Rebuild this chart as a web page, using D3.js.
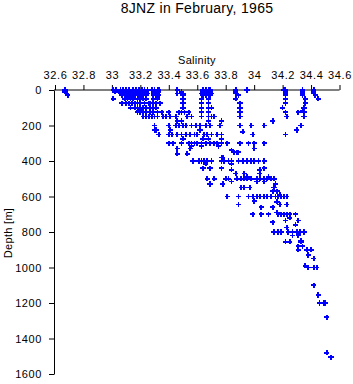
<!DOCTYPE html>
<html>
<head>
<meta charset="utf-8">
<script src="https://cdn.jsdelivr.net/npm/d3@7"></script>
<style>
  body { margin: 0; background: #fff; }
  svg { display: block; font-family: "Liberation Sans", Arial, sans-serif; }
</style>
</head>
<body>
<div id="chart"></div>
<script>
const TITLE = "8JNZ in February, 1965";
const X_LABEL = "Salinity";
const Y_LABEL = "Depth [m]";

const xTicks = [32.6, 32.8, 33, 33.2, 33.4, 33.6, 33.8, 34, 34.2, 34.4, 34.6];
const yTicks = [0, 200, 400, 600, 800, 1000, 1200, 1400, 1600];

// sampled depths (m) and the salinities read at each of them
const depths = [0, 10, 20, 30, 50, 75, 100, 115, 125, 150, 175, 200, 225, 235, 250, 275, 300, 315, 330, 340, 350, 360, 380,
  400, 415, 440, 450, 470, 490, 500, 515, 530, 550, 570, 590, 600, 625, 630, 645, 660, 690, 700, 720, 735, 745, 760, 775,
  800, 820, 850, 855, 880, 900, 930, 950, 990, 1000, 1100, 1155, 1200, 1280, 1480, 1505];

const salinity = [
  [32.67, 33.01, 33.03, 33.06, 33.08, 33.10, 33.12, 33.15, 33.17, 33.19, 33.21, 33.23, 33.25, 33.28, 33.30, 33.32, 33.33, 33.46, 33.64, 33.66, 33.68, 33.69, 33.87, 33.95, 34.21, 34.22, 34.34, 34.42],
  [32.67, 33.02, 33.05, 33.08, 33.10, 33.12, 33.14, 33.17, 33.20, 33.22, 33.24, 33.29, 33.31, 33.33, 33.49, 33.64, 33.66, 33.68, 33.69, 33.87, 34.22, 34.34, 34.42],
  [32.68, 33.06, 33.09, 33.11, 33.13, 33.16, 33.18, 33.21, 33.23, 33.25, 33.29, 33.32, 33.46, 33.50, 33.63, 33.65, 33.68, 33.70, 33.87, 34.22, 34.34, 34.42],
  [32.69, 33.07, 33.10, 33.12, 33.14, 33.16, 33.19, 33.21, 33.24, 33.29, 33.31, 33.33, 33.50, 33.64, 33.66, 33.68, 33.69, 33.89, 34.22, 34.34, 34.43],
  [33.01, 33.09, 33.11, 33.13, 33.15, 33.18, 33.20, 33.22, 33.24, 33.29, 33.32, 33.50, 33.63, 33.68, 33.87, 34.22, 34.36, 34.45],
  [33.07, 33.10, 33.12, 33.14, 33.16, 33.18, 33.20, 33.23, 33.26, 33.27, 33.29, 33.31, 33.34, 33.50, 33.63, 33.68, 33.90, 34.22, 34.36],
  [33.13, 33.16, 33.18, 33.20, 33.22, 33.24, 33.27, 33.29, 33.31, 33.50, 33.63, 33.68, 33.70, 33.90, 34.20, 34.35],
  [33.19, 33.21, 34.34],
  [33.18, 33.20, 33.22, 33.24, 33.27, 33.29, 33.32, 33.35, 33.40, 33.47, 33.49, 33.51, 33.54, 33.63, 33.68, 33.90, 34.22, 34.31, 34.35],
  [33.22, 33.24, 33.26, 33.28, 33.30, 33.32, 33.36, 33.38, 33.41, 33.45, 33.53, 33.56, 33.63, 33.68, 33.70, 33.72, 33.90, 34.23, 34.35],
  [33.46, 33.49, 33.68, 33.77, 34.13],
  [33.30, 33.40, 33.45, 33.47, 33.50, 33.52, 33.56, 33.59, 33.62, 33.66, 33.69, 33.76, 33.90, 33.98, 34.07, 34.33],
  [33.30, 33.31, 33.41, 33.62, 34.30],
  [33.92],
  [33.33, 33.40, 33.42, 33.46, 33.49, 33.52, 33.55, 33.58, 33.60, 33.65, 33.67, 33.70, 33.74, 33.77, 33.99, 34.22],
  [33.50, 33.64, 33.68, 33.77],
  [33.40, 33.43, 33.49, 33.54, 33.56, 33.58, 33.60, 33.63, 33.66, 33.69, 33.72, 33.74, 33.77, 33.81, 33.90, 33.96, 34.00, 34.07],
  [33.56, 33.63, 33.75],
  [33.46, 33.55, 34.00],
  [33.84],
  [33.86, 33.88, 33.89],
  [33.46, 33.53],
  [33.77, 33.78],
  [33.57, 33.61, 33.63, 33.65, 33.67, 33.70, 33.77, 33.79, 33.82, 33.84, 33.89, 33.92, 33.95, 33.98, 34.00, 34.03, 34.07],
  [33.66, 33.84],
  [33.64, 33.69, 33.77, 34.07],
  [33.84, 34.04],
  [33.87, 33.93, 34.04],
  [33.95, 34.10],
  [33.67, 33.72, 33.80, 33.82, 33.88, 33.91, 33.93, 33.95, 33.98, 34.02, 34.04, 34.07, 34.09, 34.12, 34.14],
  [33.84, 34.02, 34.07],
  [33.69, 33.78, 34.15],
  [33.91, 33.93, 33.97, 34.14],
  [34.13, 34.16],
  [34.18],
  [33.81, 33.89, 33.96, 33.99, 34.02, 34.04, 34.07, 34.09, 34.12, 34.15, 34.17, 34.19, 34.21, 34.23],
  [34.00],
  [34.16],
  [33.89, 34.18, 34.23],
  [34.05, 34.13],
  [34.16],
  [33.99, 34.05, 34.10, 34.17, 34.19, 34.21, 34.23, 34.25, 34.29],
  [34.25],
  [34.22, 34.31],
  [34.13],
  [34.29],
  [34.23],
  [34.14, 34.17, 34.19, 34.24, 34.27, 34.30, 34.32, 34.35],
  [34.27, 34.31],
  [34.33],
  [34.22, 34.25, 34.33],
  [34.31, 34.34],
  [34.31, 34.37, 34.40],
  [34.38],
  [34.42],
  [34.36],
  [34.38, 34.42, 34.44],
  [34.42],
  [34.45],
  [34.46, 34.49, 34.50],
  [34.51],
  [34.51],
  [34.54]
];

const width = 353;
const height = 384;
const margin = { top: 90, left: 54, right: 13, bottom: 10 };

const points = depths.flatMap((d, i) => salinity[i].map(s => ({ s: s, d: d })));

const svg = d3.select("#chart")
  .append("svg")
  .attr("width", width)
  .attr("height", height);

const x = d3.scaleLinear()
  .domain([32.6, 34.6])
  .range([55, 339.5]);

const y = d3.scaleLinear()
  .domain([0, 1600])
  .range([90, 374]);

// title and axis labels
svg.append("text")
  .attr("x", 197)
  .attr("y", 13)
  .attr("text-anchor", "middle")
  .style("font-size", "14px")
  .style("letter-spacing", "0.3px")
  .text(TITLE);

svg.append("text")
  .attr("x", 197)
  .attr("y", 64)
  .attr("text-anchor", "middle")
  .style("font-size", "11px")
  .style("letter-spacing", "0.3px")
  .text(X_LABEL);

svg.append("text")
  .attr("transform", "translate(12,233) rotate(-90)")
  .attr("text-anchor", "middle")
  .style("font-size", "11px")
  .style("letter-spacing", "0.3px")
  .text(Y_LABEL);

const xAxis = svg.append("g")
  .attr("transform", `translate(0,${y(0)})`)
  .call(d3.axisTop(x)
    .tickValues(xTicks)
    .tickFormat(d3.format("~g"))
    .tickSize(5)
    .tickSizeOuter(0)
    .tickPadding(6));

const yAxis = svg.append("g")
  .attr("transform", `translate(${margin.left},0)`)
  .call(d3.axisLeft(y)
    .tickValues(yTicks)
    .tickFormat(d3.format("d"))
    .tickSize(5)
    .tickSizeOuter(0)
    .tickPadding(7));

svg.selectAll(".tick text")
  .style("font-family", "'Liberation Sans', Arial, sans-serif")
  .style("font-size", "11px")
  .style("letter-spacing", "0.6px")
  .attr("fill", "#000");

// top axis line reaches the y axis
xAxis.select(".domain").attr("d", `M${margin.left},0H${x(34.6)}`);

svg.append("g")
  .selectAll("path")
  .data(points)
  .join("path")
  .attr("transform", d => `translate(${x(d.s)},${y(d.d)})`)
  .attr("d", d3.symbol(d3.symbolCross).size(15))
  .attr("fill", "#0000ff")
  .attr("shape-rendering", "crispEdges");
</script>
</body>
</html>
